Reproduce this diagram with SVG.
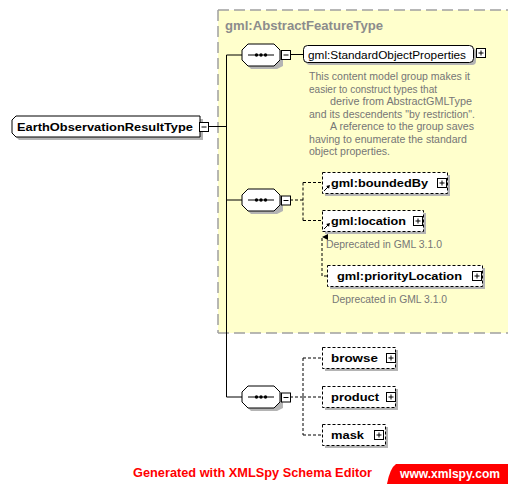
<svg xmlns="http://www.w3.org/2000/svg" width="508" height="484" viewBox="0 0 508 484">
<style>
.sh{fill:#b4b4b4;stroke:none}
.node{fill:#fff;stroke:#000;stroke-width:1}
.opt{fill:#fff;stroke:#000;stroke-width:1;stroke-dasharray:3,2}
.ln{fill:none;stroke:#000;stroke-width:1}
.dl{fill:none;stroke:#000;stroke-width:1;stroke-dasharray:3,2}
.bt{font-family:"Liberation Sans",Arial,sans-serif;font-weight:bold;font-size:11.5px;fill:#000}
.nt{font-family:"Liberation Sans",Arial,sans-serif;font-size:11.5px;fill:#000}
.ds{font-family:"Liberation Sans",Arial,sans-serif;font-size:10px;fill:#767676}
.btn{fill:#fff;stroke:#000;stroke-width:1}
</style>
<defs>
<g id="plus"><rect class="btn" x="0.5" y="0.5" width="9" height="9"/><path class="ln" d="M2.5,5H7.5M5,2.5V7.5"/></g>
<g id="minus"><rect class="btn" x="0.5" y="0.5" width="9" height="9"/><path class="ln" d="M2.5,5H7.5"/></g>
<g id="seq">
<path class="sh" d="M9,-8H35L41,-2V11L35,14H9L3,8V-2Z"/>
<path class="node" d="M6,-11H32L38,-5V5L32,11H6L0,5V-5Z"/>
<path class="ln" d="M6,0H32"/>
<circle cx="14.5" cy="0" r="1.7"/><circle cx="19" cy="0" r="1.7"/><circle cx="23.5" cy="0" r="1.7"/>
</g>
<marker id="ah" viewBox="0 0 6 6" refX="3" refY="0" markerWidth="6" markerHeight="6" orient="auto-start-reverse" markerUnits="userSpaceOnUse">
<path d="M0,6L3,0L6,6Z" fill="#000"/>
</marker>
<g id="ref"><path class="ln" d="M0,6L5,1"/><path d="M6,0L2.2,1L5,3.8Z" fill="#000"/></g>
</defs>

<!-- abstract feature type container -->
<g id="gml-AbstractFeatureType">
<rect x="218" y="10" width="300" height="323" fill="#ffffcc"/>
<path d="M218,10H508M218,333H508M218,10V333" fill="none" stroke="#a0a0a0" stroke-width="1.5" stroke-dasharray="11,5"/>
<text x="225" y="30" font-family="'Liberation Sans',Arial,sans-serif" font-weight="bold" font-size="12" fill="#8c8c8c" textLength="158" lengthAdjust="spacingAndGlyphs">gml:AbstractFeatureType</text>
</g>

<!-- connectors -->
<g id="connectors">
<path class="ln" d="M208,126.5H226.5M226.5,55V397M226.5,55H242M226.5,200H242M226.5,397H242"/>
<path class="ln" d="M290,54.5H303"/>
<path class="dl" d="M290,200H303M303,182.5V220.5M303,182.5H322M303,220.5H322"/>
<path class="dl" d="M290,397H303M303,358V435M303,358H322M303,397H322M303,435H322"/>
<path class="dl" d="M327,276H322V237" marker-end="url(#ah)"/>
</g>

<g id="EarthObservationResultType">
<path class="sh" d="M19,119H203V140H19L15,136V123Z"/>
<path class="node" d="M16,116H200V137H16L12,133V120Z"/>
<text class="bt" x="17" y="131" font-size="12" textLength="176" lengthAdjust="spacingAndGlyphs">EarthObservationResultType</text>
<use href="#minus" x="199" y="122"/>
</g>

<g id="seq1"><use href="#seq" x="242" y="55"/><use href="#minus" x="281" y="50"/></g>
<g id="seq2"><use href="#seq" x="242" y="200"/><use href="#minus" x="281" y="195.5"/></g>
<g id="seq3"><use href="#seq" x="242" y="397"/><use href="#minus" x="281" y="392.5"/></g>

<g id="StandardObjectProperties">
<rect class="sh" x="306" y="48" width="170" height="17" rx="4"/>
<rect class="node" x="303.5" y="45.5" width="170" height="17" rx="4"/>
<text class="nt" x="308" y="58.5" textLength="158" lengthAdjust="spacingAndGlyphs">gml:StandardObjectProperties</text>
<use href="#plus" x="476" y="48"/>
<text class="ds"><tspan x="309" y="80" textLength="161" lengthAdjust="spacingAndGlyphs">This content model group makes it</tspan><tspan x="309" y="92.5" textLength="128" lengthAdjust="spacingAndGlyphs">easier to construct types that</tspan><tspan x="330" y="105" textLength="142" lengthAdjust="spacingAndGlyphs">derive from AbstractGMLType</tspan><tspan x="309" y="117.5" textLength="166" lengthAdjust="spacingAndGlyphs">and its descendents "by restriction".</tspan><tspan x="330" y="130" textLength="144" lengthAdjust="spacingAndGlyphs">A reference to the group saves</tspan><tspan x="309" y="142.5" textLength="158" lengthAdjust="spacingAndGlyphs">having to enumerate the standard</tspan><tspan x="309" y="155" textLength="81" lengthAdjust="spacingAndGlyphs">object properties.</tspan></text>
</g>

<g id="boundedBy">
<rect class="sh" x="325" y="175" width="125" height="21"/>
<rect class="opt" x="322.5" y="172.5" width="125" height="21"/>
<use href="#ref" x="324" y="185"/>
<text class="bt" x="331" y="187" textLength="97" lengthAdjust="spacingAndGlyphs">gml:boundedBy</text>
<use href="#plus" x="437" y="178"/>
</g>

<g id="location">
<rect class="sh" x="325" y="213" width="101" height="21"/>
<rect class="opt" x="322.5" y="210.5" width="101" height="21"/>
<use href="#ref" x="324" y="223"/>
<text class="bt" x="331" y="225" textLength="75" lengthAdjust="spacingAndGlyphs">gml:location</text>
<use href="#plus" x="413" y="216"/>
<text class="ds" x="326" y="248" textLength="116" lengthAdjust="spacingAndGlyphs">Deprecated in GML 3.1.0</text>
</g>

<g id="priorityLocation">
<rect class="sh" x="330" y="268" width="155" height="21"/>
<rect class="opt" x="327.5" y="265.5" width="155" height="21"/>
<text class="bt" x="337" y="280" textLength="125" lengthAdjust="spacingAndGlyphs">gml:priorityLocation</text>
<use href="#plus" x="472" y="271"/>
<text class="ds" x="332" y="303" textLength="115" lengthAdjust="spacingAndGlyphs">Deprecated in GML 3.1.0</text>
</g>

<g id="browse">
<rect class="sh" x="325" y="350" width="73" height="21"/>
<rect class="opt" x="322.5" y="347.5" width="73" height="21"/>
<text class="bt" x="331" y="362" textLength="47" lengthAdjust="spacingAndGlyphs">browse</text>
<use href="#plus" x="386" y="353"/>
</g>

<g id="product">
<rect class="sh" x="325" y="389" width="73" height="21"/>
<rect class="opt" x="322.5" y="386.5" width="73" height="21"/>
<text class="bt" x="331" y="401" textLength="48" lengthAdjust="spacingAndGlyphs">product</text>
<use href="#plus" x="386" y="392"/>
</g>

<g id="mask">
<rect class="sh" x="325" y="427" width="63" height="21"/>
<rect class="opt" x="322.5" y="424.5" width="63" height="21"/>
<text class="bt" x="331" y="439" textLength="33" lengthAdjust="spacingAndGlyphs">mask</text>
<use href="#plus" x="374" y="430"/>
</g>

<g id="footer">
<text x="133" y="477" font-family="'Liberation Sans',Arial,sans-serif" font-weight="bold" font-size="13" fill="#ff0000" textLength="239" lengthAdjust="spacingAndGlyphs">Generated with XMLSpy Schema Editor</text>
<path d="M396,464H508V484H387Q390,468 396,464Z" fill="#ff0000"/>
<text x="400" y="478" font-family="'Liberation Sans',Arial,sans-serif" font-weight="bold" font-size="12.5" fill="#fff" textLength="100" lengthAdjust="spacingAndGlyphs">www.xmlspy.com</text>
</g>
</svg>
